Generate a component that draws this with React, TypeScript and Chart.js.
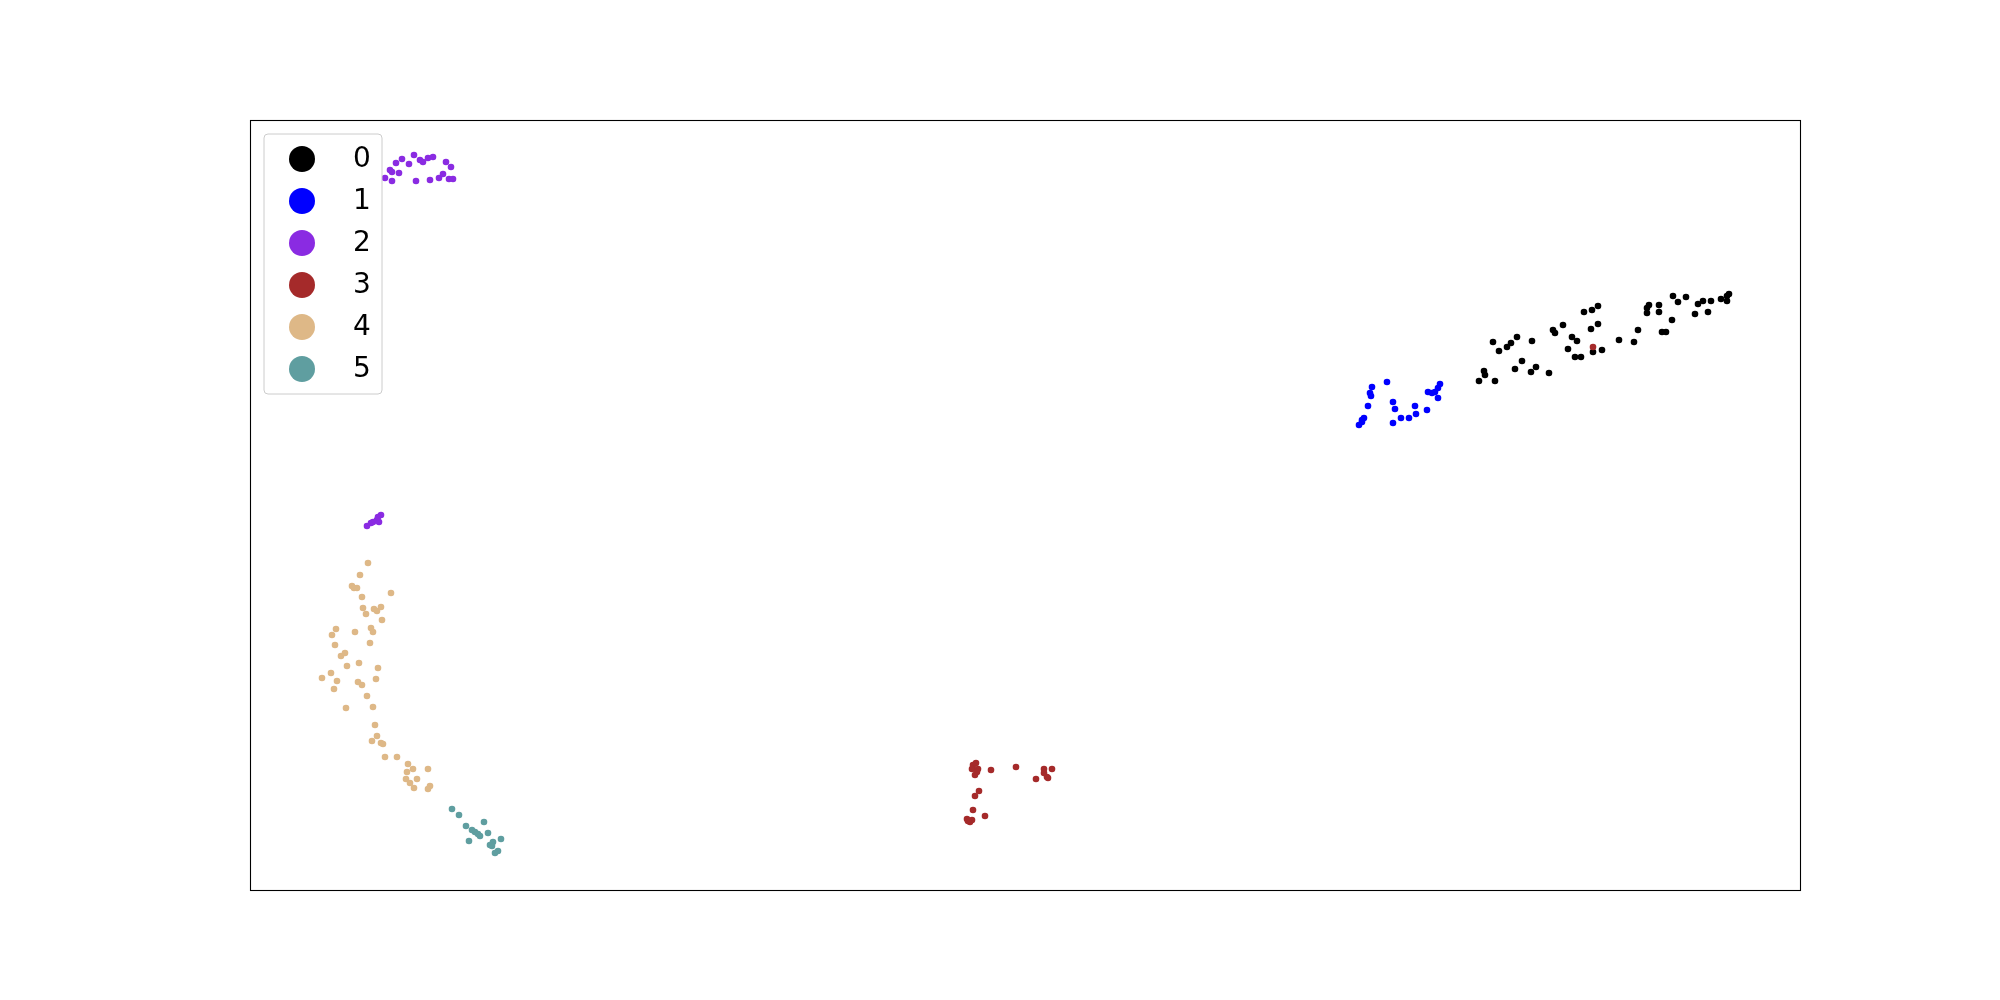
import React, { useEffect, useRef } from "react";
import { Chart, registerables } from "chart.js";

Chart.register(...registerables);

const classLabels = ["0", "1", "2", "3", "4", "5"];
const classColors = ["#000000", "#0000ff", "#8a2be2", "#a52a2a", "#deb887", "#5f9ea0"];

const cluster0: number[][] = [
  [1229, 509], [1234, 519], [1235, 515], [1245, 509], [1243, 548], [1249, 539], [1257, 543],
  [1261, 547], [1267, 553], [1265, 521], [1272, 529], [1282, 549], [1281, 518], [1286, 523],
  [1299, 517], [1303, 560], [1305, 557], [1313, 565], [1318, 541], [1322, 553], [1327, 549],
  [1325, 533], [1331, 533], [1334, 578], [1342, 580], [1348, 584], [1341, 561], [1348, 566],
  [1343, 538], [1352, 540], [1369, 550], [1384, 548], [1388, 560], [1397, 582], [1399, 585],
  [1397, 577], [1409, 585], [1409, 578], [1412, 558], [1416, 558], [1422, 570], [1423, 594],
  [1428, 588], [1436, 593], [1445, 576], [1448, 586], [1453, 589], [1458, 578], [1461, 589],
  [1471, 591], [1477, 594], [1479, 596], [1477, 589],
];

const cluster1: number[][] = [
  [1122, 503], [1120, 497], [1121, 494], [1137, 508], [1118, 484], [1143, 488], [1145, 481],
  [1143, 467], [1151, 472], [1159, 472], [1166, 476], [1165, 484], [1177, 480], [1178, 498],
  [1182, 497], [1185, 498], [1188, 492], [1190, 506], [1188, 502], [1114, 472], [1112, 468],
  [1109, 465], [1112, 470],
];

const cluster2: number[][] = [
  [135, 712], [142, 709], [140, 720], [142, 718], [146, 727], [152, 731], [149, 717],
  [159, 726], [164, 735], [166, 709], [170, 730], [173, 728], [178, 732], [183, 733],
  [180, 710], [189, 712], [193, 716], [196, 728], [201, 723], [199, 711], [203, 711],
  [117, 364], [121, 367], [123, 368], [127, 370], [129, 368], [131, 375], [128, 373],
];

const cluster3: number[][] = [
  [723, 125], [726, 127], [722, 121], [728, 121], [725, 115], [727, 118], [741, 120],
  [766, 123], [786, 111], [794, 121], [802, 121], [797, 113], [794, 117], [798, 112],
  [729, 99], [725, 94], [723, 80], [735, 74], [717, 71], [720, 68], [722, 70], [718, 69],
  [1343, 543],
];

const cluster4: number[][] = [
  [118, 327], [110, 315], [102, 304], [104, 302], [107, 302], [112, 293], [141, 297],
  [113, 282], [116, 276], [124, 281], [127, 279], [131, 283], [132, 270], [121, 262],
  [123, 258], [105, 258], [86, 261], [82, 255], [85, 245], [120, 247], [91, 234], [95, 237],
  [97, 224], [109, 227], [128, 222], [72, 212], [81, 217], [87, 209], [84, 201], [108, 208],
  [112, 205], [126, 211], [117, 194], [96, 182], [123, 183], [125, 165], [127, 154],
  [122, 149], [131, 147], [133, 146], [135, 133], [147, 133], [158, 126], [163, 121],
  [157, 118], [156, 111], [167, 111], [160, 107], [164, 102], [178, 121], [180, 104],
  [178, 101],
];

const cluster5: number[][] = [
  [202, 81], [209, 75], [216, 64], [234, 68], [222, 60], [225, 58], [228, 56], [230, 54],
  [238, 57], [219, 49], [243, 48], [251, 51], [242, 44], [240, 45], [248, 39], [245, 37],
];

const clusters = [cluster0, cluster1, cluster2, cluster3, cluster4, cluster5];

const X_MIN = 0;
const X_MAX = 1550;
const Y_MIN = 0;
const Y_MAX = 770;

const framePlugin = {
  id: "frameAndLegend",
  afterDraw(chart: any) {
    const ctx = chart.ctx as CanvasRenderingContext2D;
    const a = chart.chartArea;
    ctx.save();
    ctx.strokeStyle = "#000000";
    ctx.lineWidth = 1.1;
    ctx.strokeRect(a.left + 0.5, a.top + 0.5, a.right - a.left, a.bottom - a.top);

    // legend in upper-left
    const bx = a.left + 14;
    const by = a.top + 14;
    const bw = 118;
    const bh = 260;
    const r = 4;
    ctx.beginPath();
    ctx.moveTo(bx + r, by);
    ctx.lineTo(bx + bw - r, by);
    ctx.arcTo(bx + bw, by, bx + bw, by + r, r);
    ctx.lineTo(bx + bw, by + bh - r);
    ctx.arcTo(bx + bw, by + bh, bx + bw - r, by + bh, r);
    ctx.lineTo(bx + r, by + bh);
    ctx.arcTo(bx, by + bh, bx, by + bh - r, r);
    ctx.lineTo(bx, by + r);
    ctx.arcTo(bx, by, bx + r, by, r);
    ctx.closePath();
    ctx.fillStyle = "rgba(255,255,255,0.8)";
    ctx.fill();
    ctx.strokeStyle = "#cccccc";
    ctx.lineWidth = 1;
    ctx.stroke();

    const datasets = chart.data.datasets;
    ctx.font = "28px 'DejaVu Sans'";
    ctx.textAlign = "left";
    ctx.textBaseline = "alphabetic";
    for (let i = 0; i < datasets.length; i++) {
      const cy = by + 25 + i * 42;
      ctx.beginPath();
      ctx.arc(bx + 38, cy, 13, 0, Math.PI * 2);
      ctx.fillStyle = datasets[i].backgroundColor;
      ctx.fill();
      ctx.fillStyle = "#000000";
      ctx.fillText(datasets[i].label, bx + 89, cy + 8);
    }
    ctx.restore();
  },
};

export default function App() {
  const canvasRef = useRef<HTMLCanvasElement | null>(null);

  useEffect(() => {
    if (!canvasRef.current) return;
    const chart = new Chart(canvasRef.current, {
      type: "scatter",
      data: {
        datasets: clusters.map((pts, i) => ({
          label: classLabels[i],
          data: pts.map((p) => ({ x: p[0], y: p[1] })),
          backgroundColor: classColors[i],
          borderColor: classColors[i],
          borderWidth: 0,
          pointRadius: 3.3,
          pointHoverRadius: 3.3,
          order: classLabels.length - i,
        })),
      },
      options: {
        responsive: false,
        animation: false,
        devicePixelRatio: 1,
        layout: { padding: { left: 250, right: 200, top: 120, bottom: 110 } },
        plugins: { legend: { display: false }, tooltip: { enabled: false } },
        scales: {
          x: { type: "linear", min: X_MIN, max: X_MAX, display: false },
          y: { type: "linear", min: Y_MIN, max: Y_MAX, display: false },
        },
      },
      plugins: [framePlugin],
    });
    return () => chart.destroy();
  }, []);

  return (
    <div style={{ position: "absolute", left: 0, top: 0, width: 2000, height: 1000, background: "#ffffff" }}>
      <canvas ref={canvasRef} width={2000} height={1000} />
    </div>
  );
}
